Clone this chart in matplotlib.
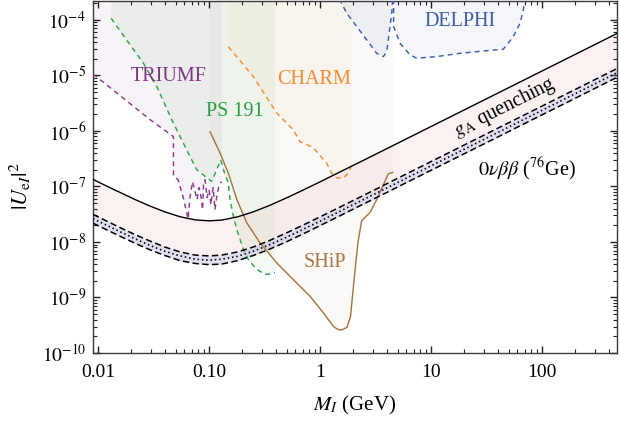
import matplotlib
matplotlib.use("Agg")
import matplotlib.pyplot as plt
from matplotlib.ticker import FixedLocator, NullFormatter, FixedFormatter, LogLocator

plt.rcParams['font.family'] = 'serif'
plt.rcParams['font.serif'] = ['Liberation Serif', 'DejaVu Serif']
plt.rcParams['mathtext.fontset'] = 'stix'

# ---------------- data ----------------
mass_grid = [0.009, 0.012, 0.016, 0.022, 0.03, 0.04, 0.055, 0.075, 0.1, 0.13, 0.18, 0.25,
             0.35, 0.5, 0.7, 1, 1.5, 2.5, 4, 7, 12, 20, 35, 60, 100, 180, 300, 500]
ga_quench = [1.34e-7, 1.01e-7, 7.7e-8, 5.7e-8, 4.36e-8, 3.48e-8, 2.84e-8, 2.5e-8, 2.4e-8,
             2.48e-8, 2.83e-8, 3.48e-8, 4.54e-8, 6.24e-8, 8.57e-8, 1.21e-7, 1.81e-7, 3.0e-7,
             4.8e-7, 8.4e-7, 1.44e-6, 2.4e-6, 4.2e-6, 7.2e-6, 1.2e-5, 2.16e-5, 3.6e-5, 6.0e-5]
bb_upper = [3.14e-8, 2.37e-8, 1.79e-8, 1.33e-8, 1.02e-8, 8.1e-9, 6.6e-9, 5.8e-9, 5.6e-9,
            5.8e-9, 6.6e-9, 8.1e-9, 1.06e-8, 1.46e-8, 2.0e-8, 2.83e-8, 4.22e-8, 7.0e-8,
            1.12e-7, 1.96e-7, 3.36e-7, 5.6e-7, 9.8e-7, 1.68e-6, 2.8e-6, 5.04e-6, 8.4e-6, 1.4e-5]
bb_central = [2.63e-8, 1.99e-8, 1.51e-8, 1.12e-8, 8.5e-9, 6.8e-9, 5.6e-9, 4.9e-9, 4.7e-9,
              4.9e-9, 5.5e-9, 6.8e-9, 8.9e-9, 1.22e-8, 1.68e-8, 2.37e-8, 3.54e-8, 5.9e-8,
              9.4e-8, 1.65e-7, 2.82e-7, 4.7e-7, 8.2e-7, 1.41e-6, 2.35e-6, 4.23e-6, 7.05e-6, 1.18e-5]
bb_lower = [2.18e-8, 1.65e-8, 1.25e-8, 9.3e-9, 7.1e-9, 5.7e-9, 4.6e-9, 4.1e-9, 3.9e-9,
            4.0e-9, 4.6e-9, 5.7e-9, 7.4e-9, 1.01e-8, 1.39e-8, 1.97e-8, 2.94e-8, 4.9e-8,
            7.8e-8, 1.37e-7, 2.34e-7, 3.9e-7, 6.8e-7, 1.17e-6, 1.95e-6, 3.5e-6, 5.85e-6, 9.75e-6]

triumf_m = [0.009, 0.0294, 0.0477, 0.0478, 0.0526, 0.0583, 0.0647, 0.0674, 0.0710, 0.0748,
            0.0780, 0.0812, 0.0847, 0.0874, 0.0892, 0.0920, 0.0960, 0.100, 0.104, 0.1087,
            0.113, 0.118, 0.123, 0.1297]
triumf_u = [1.06e-5, 1.6e-6, 7.9e-7, 1.56e-7, 1.32e-7, 6.5e-8, 2.6e-8, 6.5e-8, 1.22e-7, 8.0e-8,
            5.8e-8, 9.5e-8, 6.5e-8, 3.8e-8, 1.07e-7, 1.32e-7, 6.3e-8, 8.7e-8, 4.7e-8, 9.5e-8,
            3.8e-8, 7.1e-8, 1.03e-7, 1.22e-7]

ps191_m = [0.0131, 0.01815, 0.0256, 0.0338, 0.0462, 0.0587, 0.0774, 0.1057, 0.1274, 0.1365,
           0.149, 0.1545, 0.1656, 0.178, 0.204, 0.226, 0.269, 0.320, 0.355, 0.394]
ps191_u = [1.07e-4, 4.3e-5, 1.66e-5, 6.3e-6, 1.58e-6, 6.0e-7, 2.0e-7, 1.23e-7, 3.0e-7, 1.86e-7,
           1.15e-7, 5.8e-8, 2.9e-8, 1.66e-8, 7.3e-9, 4.8e-9, 3.2e-9, 2.6e-9, 2.65e-9, 2.8e-9]

charm_m = [0.149, 0.2506, 0.407, 0.574, 0.66, 0.87, 1.0, 1.15, 1.27, 1.41, 1.62, 1.80, 1.93]
charm_u = [3.3e-5, 9.5e-6, 2.1e-6, 1.05e-6, 6.4e-7, 5.0e-7, 3.6e-7, 2.6e-7, 1.74e-7, 1.42e-7,
           1.42e-7, 1.74e-7, 2.45e-7]

ship_m = [0.102, 0.1256, 0.149, 0.178, 0.219, 0.288, 0.407, 0.574, 0.813, 1.07, 1.32, 1.45,
          1.57, 1.75, 1.88, 1.98, 2.08, 2.2, 2.37, 2.6, 2.82, 3.24, 3.72, 4.12, 4.52]
ship_u = [9.7e-7, 4.0e-7, 1.74e-7, 5.8e-8, 2.2e-8, 9.6e-9, 4.2e-9, 2.1e-9, 1.05e-9, 5.3e-10,
          3.0e-10, 2.65e-10, 2.6e-10, 2.9e-10, 4.5e-10, 1.3e-9, 3.5e-9, 1.0e-8, 2.4e-8, 2.9e-8,
          3.4e-8, 5.8e-8, 1.07e-7, 1.69e-7, 1.79e-7]

delphi_left_m = [1.46, 1.74, 2.14, 2.64, 3.24, 3.72, 3.99, 4.12, 4.27, 4.43, 4.52]
delphi_left_u = [2.6e-4, 1.32e-4, 7.6e-5, 4.35e-5, 2.5e-5, 2.18e-5, 2.68e-5, 4.35e-5, 7.6e-5,
                 1.32e-4, 2.6e-4]
delphi_right_m = [4.6, 4.6, 5.26, 6.47, 7.43, 11.2, 18.2, 31.8, 44.8, 55.1, 63.4, 67.9, 70.3]
delphi_right_u = [2.6e-4, 7.6e-5, 3.8e-5, 2.34e-5, 2.04e-5, 2.18e-5, 2.5e-5, 2.79e-5, 2.96e-5,
                  4.99e-5, 8.7e-5, 1.5e-4, 2.6e-4]

x_ticks = [0.01, 0.1, 1, 10, 100]
x_ticklabels = ["0.01", "0.10", "1", "10", "100"]
y_ticks = [1e-10, 1e-9, 1e-8, 1e-7, 1e-6, 1e-5, 1e-4]
y_ticklabels = [r"$10^{-10}$", r"$10^{-9}$", r"$10^{-8}$", r"$10^{-7}$", r"$10^{-6}$",
                r"$10^{-5}$", r"$10^{-4}$"]

XMIN, XMAX = 0.0090, 474.0
YMIN, YMAX = 1e-10, 2.19e-4
TOP = 1e-3

# ---------------- figure ----------------
fig = plt.figure(figsize=(6.2, 4.22), dpi=100)
ax = fig.add_axes([93 / 620, 69 / 422, 524 / 620, 352 / 422])
ax.set_xscale('log')
ax.set_yscale('log')
ax.set_xlim(XMIN, XMAX)
ax.set_ylim(YMIN, YMAX)

c_purple = '#8b3b8d'
c_green = '#2fa548'
c_orange = '#f5892f'
c_blue = '#3b5db0'
c_brown = '#a8703c'


def region(m, u, color, alpha, z=1):
    xs = list(m) + [m[-1], m[0]]
    ys = list(u) + [TOP, TOP]
    ax.fill(xs, ys, color=color, alpha=alpha, lw=0, zorder=z)


region(triumf_m, triumf_u, c_purple, 0.06)
region(ps191_m, ps191_u, c_green, 0.065)
region(ship_m, ship_u, c_brown, 0.035)
region(charm_m, charm_u, c_orange, 0.045)
ax.fill(delphi_left_m, delphi_left_u, color=c_blue, alpha=0.06, lw=0, zorder=1)
ax.fill(delphi_right_m, delphi_right_u, color=c_blue, alpha=0.055, lw=0, zorder=1)

# gA band and 0vbb band
ax.fill_between(mass_grid, bb_upper, ga_quench, color='#d64a4a', alpha=0.075, lw=0, zorder=1.5)
ax.fill_between(mass_grid, bb_lower, bb_upper, color='#7070c0', alpha=0.22, lw=0, zorder=1.6)

dash_c = (3.4, 2.8)
ax.plot(triumf_m, triumf_u, color=c_purple, lw=1.05, dashes=dash_c, zorder=3)
ax.plot(ps191_m, ps191_u, color=c_green, lw=1.05, dashes=dash_c, zorder=3)
ax.plot(charm_m, charm_u, color=c_orange, lw=1.05, dashes=dash_c, zorder=3)
ax.plot(delphi_left_m, delphi_left_u, color=c_blue, lw=1.05, dashes=dash_c, zorder=3)
ax.plot(delphi_right_m, delphi_right_u, color=c_blue, lw=1.05, dashes=dash_c, zorder=3)
ax.plot(ship_m, ship_u, color=c_brown, lw=1.0, zorder=3)

ax.plot(mass_grid, ga_quench, color='black', lw=1.0, zorder=4)
ax.plot(mass_grid, bb_upper, color='black', lw=1.1, dashes=(4.2, 2.2), zorder=4)
ax.plot(mass_grid, bb_lower, color='black', lw=1.1, dashes=(4.2, 2.2), zorder=4)
ax.plot(mass_grid, bb_central, color='black', lw=1.2, dashes=(0.9, 1.7), zorder=4)

# labels
tk = dict(fontsize=14.5, ha='center', va='center', zorder=5)
ax.text(0.0436, 9.4e-6, "TRIUMF", color='#7d3580', **tk)
ax.text(0.171, 2.2e-6, "PS 191", color='#2a9d45', **tk)
ax.text(0.883, 8.3e-6, "CHARM", color='#f58a33', **tk)
ax.text(18.2, 9.5e-5, "DELPHI", color='#3d5ba8', **tk)
ax.text(1.11, 4.2e-9, "SHiP", color='#a87444', **tk)
ax.text(46.4, 2.6e-6, r"$g_{\mathrm{A}}$ quenching", color='black', rotation=26.6,
        rotation_mode='anchor', **tk)
ax.text(73.3, 2.0e-7, r"$0\nu\beta\beta$ ($^{76}$Ge)", color='black', **tk)

# axes styling
for s in ax.spines.values():
    s.set_color('#3a3a3a')
    s.set_linewidth(1.0)

ax.xaxis.set_major_locator(FixedLocator(x_ticks))
ax.xaxis.set_major_formatter(FixedFormatter(x_ticklabels))
ax.yaxis.set_major_locator(FixedLocator(y_ticks))
ax.yaxis.set_major_formatter(FixedFormatter(y_ticklabels))
ax.xaxis.set_minor_locator(LogLocator(base=10, subs=range(2, 10), numticks=20))
ax.yaxis.set_minor_locator(LogLocator(base=10, subs=range(2, 10), numticks=20))
ax.xaxis.set_minor_formatter(NullFormatter())
ax.yaxis.set_minor_formatter(NullFormatter())
ax.tick_params(which='both', direction='in', top=True, right=True, color='#222222')
ax.tick_params(which='major', length=5, width=1.0, labelsize=14)
ax.tick_params(which='minor', length=2.6, width=0.8)
ax.tick_params(axis='x', which='major', pad=8)
ax.tick_params(axis='y', which='major', pad=5)

ax.set_xlabel(r"$M_I$ (GeV)", fontsize=15)
ax.xaxis.set_label_coords(0.5, -0.115)
ax.set_ylabel(r"$|U_{\mathrm{e}I}|^2$", fontsize=16)
ax.yaxis.set_label_coords(-0.115, 0.474)

fig.savefig("out.png", dpi=100)
